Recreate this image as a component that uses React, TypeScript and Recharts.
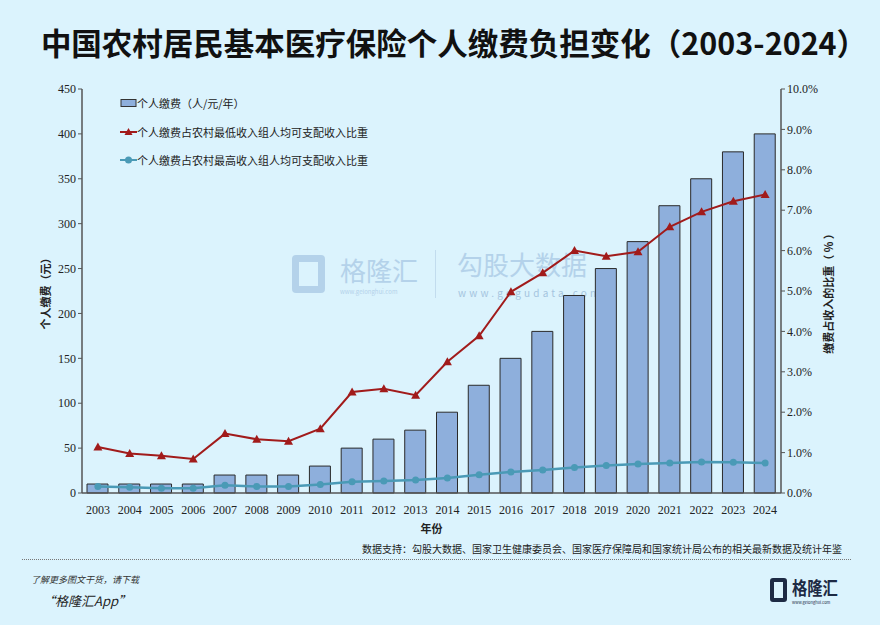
import { ComposedChart, Bar, Line, XAxis, YAxis, Legend } from "recharts";

const YEARS = [
  "2003", "2004", "2005", "2006", "2007", "2008", "2009", "2010", "2011", "2012", "2013",
  "2014", "2015", "2016", "2017", "2018", "2019", "2020", "2021", "2022", "2023", "2024",
];
// 个人缴费（元/人/年）
const FEES = [10, 10, 10, 10, 20, 20, 20, 30, 50, 60, 70, 90, 120, 150, 180, 220, 250, 280, 320, 350, 380, 400];
// 占农村最低收入组人均可支配收入比重（%）
const LOW_SHARE = [
  1.14, 0.98, 0.92, 0.84, 1.47, 1.33, 1.28, 1.59, 2.5, 2.58, 2.42,
  3.25, 3.89, 4.98, 5.45, 6.0, 5.86, 5.97, 6.59, 6.96, 7.22, 7.39,
];
// 占农村最高收入组人均可支配收入比重（%）
const HIGH_SHARE = [
  0.16, 0.14, 0.12, 0.12, 0.19, 0.16, 0.16, 0.21, 0.28, 0.3, 0.32,
  0.37, 0.45, 0.52, 0.57, 0.63, 0.68, 0.72, 0.74, 0.77, 0.76, 0.74,
];
const LEFT_TICKS = [0, 50, 100, 150, 200, 250, 300, 350, 400, 450];
const RIGHT_TICKS = [0, 1, 2, 3, 4, 5, 6, 7, 8, 9, 10];

const data = YEARS.map((year, i) => ({
  year,
  fee: FEES[i],
  low: LOW_SHARE[i],
  high: HIGH_SHARE[i],
}));

const BG = "#dbf3fd";
const BAR_FILL = "#8eafdc";
const RED = "#a11b1b";
const TEAL = "#4a9ab6";
const AXIS = "#555";
const SERIF = "'Liberation Serif', 'Times New Roman', serif";
const SANS = "'Noto Sans CJK SC', 'Noto Sans', sans-serif";

const tickStyle = { fontFamily: SERIF, fontSize: 12, fill: "#222" };

function Triangle(props: any) {
  const { cx, cy, index } = props;
  if (cx == null || cy == null) return <g key={index} />;
  return <path key={index} d={`M${cx},${cy - 4.5} L${cx + 4.5},${cy + 3.5} L${cx - 4.5},${cy + 3.5} Z`} fill={RED} />;
}

function LegendBox() {
  const row = { display: "flex", alignItems: "center", height: 28.5, fontSize: 11, color: "#222", fontFamily: SANS };
  return (
    <div>
      <div style={row}>
        <svg width={17} height={10}>
          <rect x={1} y={1.5} width={15} height={7} fill={BAR_FILL} stroke="#333" strokeWidth={1} />
        </svg>
        <span>个人缴费（人/元/年）</span>
      </div>
      <div style={row}>
        <svg width={17} height={10}>
          <line x1={0} x2={17} y1={5} y2={5} stroke={RED} strokeWidth={2} />
          <path d="M8.5,1 L12.5,8 L4.5,8 Z" fill={RED} />
        </svg>
        <span>个人缴费占农村最低收入组人均可支配收入比重</span>
      </div>
      <div style={row}>
        <svg width={17} height={10}>
          <line x1={0} x2={17} y1={5} y2={5} stroke={TEAL} strokeWidth={2} />
          <circle cx={8.5} cy={5} r={3.5} fill={TEAL} />
        </svg>
        <span>个人缴费占农村最高收入组人均可支配收入比重</span>
      </div>
    </div>
  );
}

export default function App() {
  return (
    <div
      style={{
        position: "absolute",
        left: 0,
        top: 0,
        width: 880,
        height: 625,
        background: BG,
        overflow: "hidden",
        fontFamily: SANS,
      }}
    >
      {/* title */}
      <div
        style={{
          position: "absolute",
          left: 14,
          top: 21,
          width: 880,
          textAlign: "center",
          fontSize: 30.5,
          fontWeight: 700,
          color: "#111",
          whiteSpace: "nowrap",
          lineHeight: "42px",
        }}
      >
        中国农村居民基本医疗保险个人缴费负担变化（2003-2024）
      </div>

      {/* watermark */}
      <div style={{ position: "absolute", left: 292, top: 250, color: "#b4d2ea", pointerEvents: "none", lineHeight: 1 }}>
        <div
          style={{
            position: "absolute",
            left: 0,
            top: 5,
            width: 33,
            height: 38,
            border: "7px solid #b4d2ea",
            borderRadius: 4,
            boxSizing: "border-box",
          }}
        />
        <div style={{ position: "absolute", left: 48, top: 7, fontSize: 26, whiteSpace: "nowrap" }}>格隆汇</div>
        <div style={{ position: "absolute", left: 48, top: 39, fontSize: 6, whiteSpace: "nowrap" }}>www.gelonghui.com</div>
        <div style={{ position: "absolute", left: 143, top: 0, width: 1, height: 48, background: "#c2dcee" }} />
        <div style={{ position: "absolute", left: 165, top: 1, fontSize: 26, whiteSpace: "nowrap" }}>勾股大数据</div>
        <div style={{ position: "absolute", left: 166, top: 38, fontSize: 10, letterSpacing: 3.2, whiteSpace: "nowrap", color: "#a5c5e0" }}>
          www.gogudata.com
        </div>
      </div>

      <div style={{ position: "absolute", left: 0, top: 0 }}>
        <ComposedChart
          width={880}
          height={540}
          data={data}
          margin={{ top: 89, right: 49, bottom: 17, left: 32 }}
          barSize={21}
        >
          <XAxis
            dataKey="year"
            tick={tickStyle}
            tickLine={false}
            axisLine={{ stroke: AXIS, strokeWidth: 1.5 }}
            interval={0}
            height={30}
            tickMargin={6}
            label={{ value: "年份", position: "insideBottom", offset: -10, style: { fontSize: 11, fontWeight: 700, fill: "#222", fontFamily: SANS } }}
          />
          <YAxis
            yAxisId="left"
            domain={[0, 450]}
            ticks={LEFT_TICKS}
            tick={tickStyle}
            tickLine={{ stroke: AXIS }}
            tickSize={4}
            axisLine={{ stroke: AXIS, strokeWidth: 1.5 }}
            width={50}
            label={{
              value: "个人缴费（元）",
              angle: -90,
              position: "insideLeft",
              offset: 14,
              style: { textAnchor: "middle", fontSize: 11, fontWeight: 700, fill: "#222", fontFamily: SANS },
            }}
          />
          <YAxis
            yAxisId="right"
            orientation="right"
            domain={[0, 10]}
            ticks={RIGHT_TICKS}
            tickFormatter={(v: number) => `${v.toFixed(1)}%`}
            tick={tickStyle}
            tickLine={{ stroke: AXIS }}
            tickSize={4}
            axisLine={{ stroke: AXIS, strokeWidth: 1.5 }}
            width={50}
            label={{
              value: "缴费占收入的比重（ % ）",
              angle: -90,
              position: "insideRight",
              offset: 2,
              style: { textAnchor: "middle", fontSize: 11, fontWeight: 700, fill: "#222", fontFamily: SANS },
            }}
          />
          <Legend
            layout="vertical"
            align="center"
            verticalAlign="middle"
            content={() => <LegendBox />}
            wrapperStyle={{ left: 120, top: 89, width: 320 }}
          />
          <Bar
            yAxisId="left"
            dataKey="fee"
            name="个人缴费（人/元/年）"
            fill={BAR_FILL}
            stroke="#2a2a2a"
            strokeWidth={1}
            isAnimationActive={false}
          />
          <Line
            yAxisId="right"
            dataKey="low"
            name="个人缴费占农村最低收入组人均可支配收入比重"
            stroke={RED}
            strokeWidth={2}
            dot={Triangle}
            activeDot={false}
            isAnimationActive={false}
          />
          <Line
            yAxisId="right"
            dataKey="high"
            name="个人缴费占农村最高收入组人均可支配收入比重"
            stroke={TEAL}
            strokeWidth={2.5}
            dot={{ r: 3.5, fill: TEAL, stroke: TEAL, strokeWidth: 0 }}
            activeDot={false}
            isAnimationActive={false}
          />
        </ComposedChart>
      </div>

      {/* source */}
      <div
        style={{
          position: "absolute",
          right: 38,
          top: 541,
          fontSize: 10,
          color: "#222",
          whiteSpace: "nowrap",
        }}
      >
        数据支持：勾股大数据、国家卫生健康委员会、国家医疗保障局和国家统计局公布的相关最新数据及统计年鉴
      </div>
      <div style={{ position: "absolute", left: 22, top: 559, width: 829, borderTop: "1px dotted #777" }} />

      {/* footer */}
      <div style={{ position: "absolute", left: 31, top: 573, fontSize: 9, fontStyle: "italic", color: "#333", whiteSpace: "nowrap" }}>
        了解更多图文干货，请下载
      </div>
      <div style={{ position: "absolute", left: 42, top: 591, fontSize: 13, fontStyle: "italic", color: "#222", whiteSpace: "nowrap" }}>
        “格隆汇App”
      </div>
      <div style={{ position: "absolute", left: 770, top: 578, lineHeight: 1 }}>
        <div
          style={{
            position: "absolute",
            left: 0,
            top: 0,
            width: 17,
            height: 24,
            border: "4px solid #1d2a44",
            borderRadius: 3,
            boxSizing: "border-box",
          }}
        />
        <div style={{ position: "absolute", left: 22, top: 0, fontSize: 18, fontWeight: 700, color: "#1d2a44", whiteSpace: "nowrap", transform: "scaleX(0.85)", transformOrigin: "left" }}>
          格隆汇
        </div>
        <div style={{ position: "absolute", left: 22, top: 22, fontSize: 4, color: "#1d2a44", whiteSpace: "nowrap" }}>
          www.gelonghui.com
        </div>
      </div>
    </div>
  );
}
